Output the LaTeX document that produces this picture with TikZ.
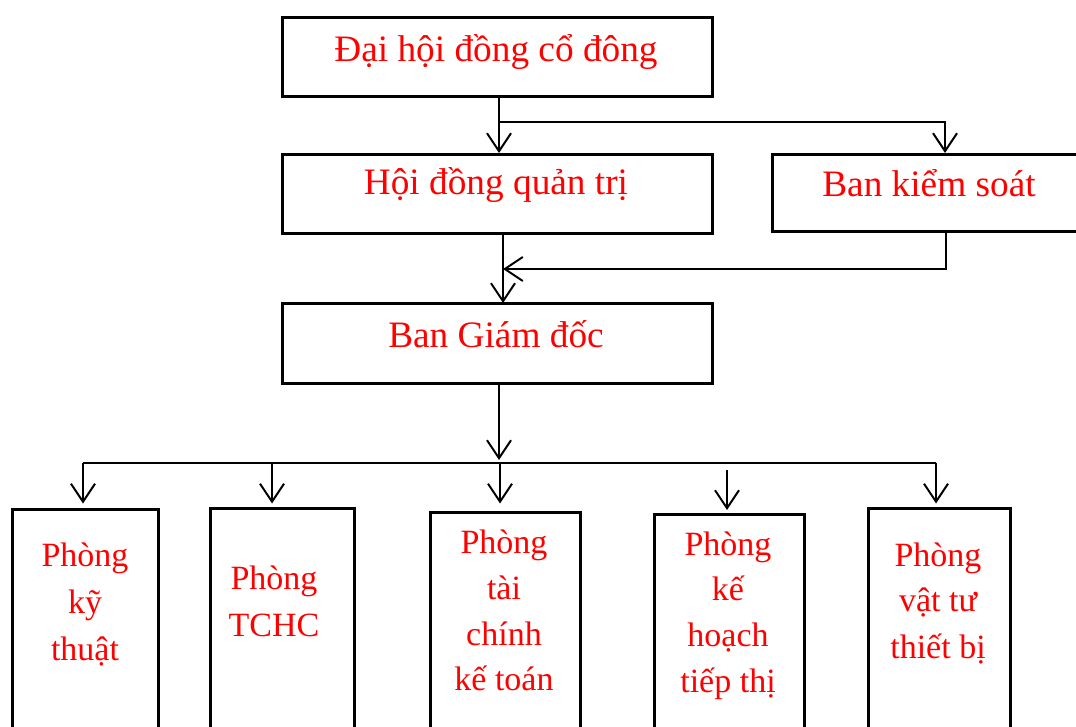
\documentclass[tikz,border=0pt]{standalone}
\usepackage{fontspec}
\setmainfont{Liberation Serif}
\usetikzlibrary{arrows.meta}
\begin{document}
\begin{tikzpicture}[x=1pt,y=-1pt,
  box/.style={draw=black, line width=2.8pt, rectangle, anchor=north west, inner sep=0pt},
  big/.style={text=red, inner sep=0pt, anchor=base, font=\fontsize{37.3}{45}\selectfont},
  small/.style={text=red, inner sep=0pt, anchor=base, font=\fontsize{34}{41}\selectfont},
  link/.style={draw=black, line width=2pt},
  tip/.style={-{Straight Barb[length=18pt,width=24pt,line width=2pt]}}]
\useasboundingbox (0,0) rectangle (1076,727);
\clip (0,0) rectangle (1076,727);

% upper boxes
\node[box, minimum width=430pt, minimum height=79pt] (dhcd) at (281,16) {};
\node[box, minimum width=430pt, minimum height=79pt] (hdqt) at (281,153) {};
\node[box, minimum width=330pt, minimum height=77pt] (bks)  at (771,153) {};
\node[box, minimum width=430pt, minimum height=80pt] (bgd)  at (281,302) {};

\node[big] (tdhcd) at (496,61.7) {Đại hội đồng cổ đông};
\node[big] (thdqt) at (496,195) {Hội đồng quản trị};
\node[big] (tbks)  at (929,197) {Ban kiểm soát};
\node[big] (tbgd)  at (496,347) {Ban Giám đốc};

% department boxes (run past the lower edge)
\node[box, minimum width=146pt, minimum height=240pt] (p1) at (11,508) {};
\node[box, minimum width=144pt, minimum height=240pt] (p2) at (209,507) {};
\node[box, minimum width=150pt, minimum height=240pt] (p3) at (429,511) {};
\node[box, minimum width=150pt, minimum height=240pt] (p4) at (653,513) {};
\node[box, minimum width=142pt, minimum height=240pt] (p5) at (867,507) {};

\node[small] (p1a) at (85,566.7) {Phòng};
\node[small] (p1b) at (85,613.3) {kỹ};
\node[small] (p1c) at (85,660) {thuật};

\node[small] (p2a) at (274,589.3) {Phòng};
\node[small] (p2b) at (274,636.7) {TCHC};

\node[small] (p3a) at (504,553.6) {Phòng};
\node[small] (p3b) at (504,599.5) {tài};
\node[small] (p3c) at (504,645.5) {chính};
\node[small] (p3d) at (504,690) {kế toán};

\node[small] (p4a) at (728,555) {Phòng};
\node[small] (p4b) at (728,600.7) {kế};
\node[small] (p4c) at (728,646.7) {hoạch};
\node[small] (p4d) at (728,692) {tiếp thị};

\node[small] (p5a) at (938,566.7) {Phòng};
\node[small] (p5b) at (938,611.7) {vật tư};
\node[small] (p5c) at (938,658.3) {thiết bị};

% connectors between the upper boxes
\coordinate (c1) at (499,122);
\coordinate (c2) at (945,122);
\coordinate (c3) at (503,269);
\coordinate (c4) at (946,269);
\coordinate (c5) at (499,460);

\draw[link,tip] (c1 |- dhcd.south) -- (c1 |- hdqt.north);
\draw[link,tip] (c1) -- (c2) -- (c2 |- bks.north);
\draw[link,tip] (c3 |- hdqt.south) -- ([yshift=-1pt]c3 |- bgd.north);
\draw[link,tip] (c4 |- bks.south) -- (c4) -- (c3);
\draw[link,tip] (c5 |- bgd.south) -- (c5);

% distribution bus to the departments
\coordinate (b1) at (83,462.5);
\coordinate (b2) at (272,462.5);
\coordinate (b3) at (500,462.5);
\coordinate (b4) at (727,470);
\coordinate (b5) at (936,462.5);

\draw[link] (b1) -- (b5);
\draw[link,tip,shorten >=4.5pt] (b1) -- (b1 |- p1.north);
\draw[link,tip,shorten >=3.5pt] (b2) -- (b2 |- p2.north);
\draw[link,tip,shorten >=7.5pt] (b3) -- (b3 |- p3.north);
\draw[link,tip,shorten >=3pt] (b4) -- (b4 |- p4.north);
\draw[link,tip,shorten >=3.5pt] (b5) -- (b5 |- p5.north);
\end{tikzpicture}
\end{document}
